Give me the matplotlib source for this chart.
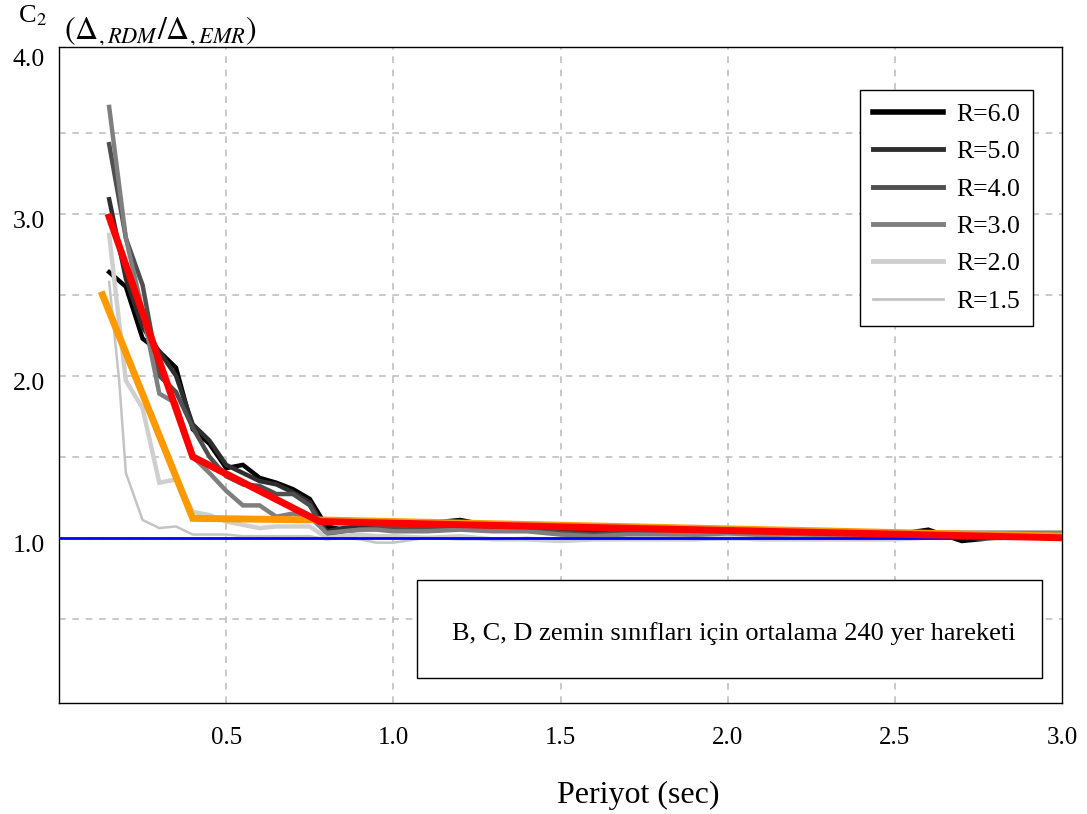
import matplotlib
matplotlib.use("Agg")
import matplotlib.pyplot as plt
from matplotlib.patches import Rectangle
from matplotlib.transforms import Bbox, ScaledTranslation

plt.rcParams['font.family'] = ['Liberation Serif', 'DejaVu Serif']
plt.rcParams['mathtext.fontset'] = 'stix'

# ---------------- data ----------------
periods = [0.15, 0.20, 0.25, 0.30, 0.35, 0.40, 0.45, 0.50, 0.55, 0.60, 0.65, 0.70,
           0.75, 0.80, 0.85, 0.90, 0.95, 1.00, 1.10, 1.20, 1.30, 1.40, 1.50, 1.60,
           1.70, 1.80, 1.90, 2.00, 2.10, 2.20, 2.30, 2.40, 2.50, 2.60, 2.70, 2.80,
           2.90, 3.00]

r60 = [2.64, 2.55, 2.23, 2.15, 2.05, 1.67, 1.58, 1.43, 1.45, 1.37, 1.34, 1.30,
       1.24, 1.07, 1.05, 1.06, 1.07, 1.08,
       1.09, 1.11, 1.07, 1.06, 1.04, 1.04, 1.05, 1.04, 1.04, 1.03, 1.03, 1.02,
       1.02, 1.02, 1.02, 1.05, 0.98, 1.00, 1.01, 1.00]
r50 = [3.09, 2.60, 2.30, 2.15, 2.00, 1.70, 1.60, 1.45, 1.40, 1.35, 1.33, 1.28,
       1.22, 1.04, 1.06, 1.07, 1.06, 1.07,
       1.07, 1.08, 1.06, 1.05, 1.04, 1.03, 1.04, 1.04, 1.03, 1.03, 1.02, 1.02,
       1.02, 1.01, 1.02, 1.03, 1.01, 1.02, 1.02, 1.02]
r40 = [3.43, 2.85, 2.56, 2.00, 1.90, 1.68, 1.50, 1.38, 1.33, 1.32, 1.27, 1.27,
       1.20, 1.02, 1.04, 1.05, 1.06, 1.06,
       1.06, 1.07, 1.05, 1.05, 1.03, 1.02, 1.03, 1.03, 1.02, 1.02, 1.02, 1.02,
       1.01, 1.02, 1.02, 1.03, 1.03, 1.03, 1.03, 1.03]
r30 = [3.66, 2.85, 2.40, 1.89, 1.83, 1.50, 1.40, 1.29, 1.20, 1.20, 1.13, 1.15,
       1.13, 1.03, 1.04, 1.05, 1.05, 1.04,
       1.04, 1.05, 1.04, 1.04, 1.02, 1.01, 1.02, 1.02, 1.02, 1.02, 1.01, 1.01,
       1.01, 1.02, 1.02, 1.03, 1.03, 1.03, 1.03, 1.03]
r20 = [2.87, 1.97, 1.80, 1.34, 1.36, 1.16, 1.14, 1.10, 1.08, 1.06, 1.07, 1.07,
       1.07, 1.00, 1.01, 1.02, 1.01, 1.01,
       1.00, 1.01, 0.99, 0.99, 0.98, 0.99, 0.99, 0.99, 0.99, 1.00, 0.99, 0.99,
       0.99, 0.99, 0.99, 1.00, 1.00, 1.00, 1.00, 1.00]

periods_r15 = [0.15, 0.18, 0.20, 0.25, 0.30, 0.35, 0.40, 0.45, 0.50, 0.55, 0.60,
               0.65, 0.70, 0.75, 0.80, 0.85, 0.90, 0.95, 1.00, 1.10, 1.20, 1.30,
               1.40, 1.50, 1.60, 1.70, 1.80, 1.90, 2.00, 2.20, 2.40, 2.60, 2.80,
               3.00]
r15 = [2.58, 1.97, 1.40, 1.11, 1.06, 1.07, 1.02, 1.02, 1.02, 1.01, 1.01,
       1.01, 1.01, 1.01, 0.99, 1.00, 0.99, 0.97, 0.97, 1.00, 0.99, 0.99,
       1.00, 0.99, 0.99, 1.00, 1.00, 0.99, 0.99, 1.00, 0.99, 1.00, 0.99,
       1.00]

red_T = [0.15, 0.40, 0.78, 3.00]
red_C = [2.98, 1.50, 1.10, 1.00]
orange_T = [0.13, 0.40, 0.78, 3.00]
orange_C = [2.50, 1.12, 1.11, 1.01]

legend_labels = ["R=6.0", "R=5.0", "R=4.0", "R=3.0", "R=2.0", "R=1.5"]
x_ticks = [0.5, 1.0, 1.5, 2.0, 2.5, 3.0]
y_ticks = [1.0, 2.0, 3.0, 4.0]

# ---------------- figure ----------------
W, H = 1087, 814
fig = plt.figure(figsize=(W / 100, H / 100), dpi=100)
ax = fig.add_axes([59 / W, 1 - 703 / H, (1062 - 59) / W, (703 - 47) / H])

series = [
    (periods, r60, "#000000", 3.2),
    (periods, r50, "#2e2e2e", 3.2),
    (periods, r40, "#4f4f4f", 3.2),
    (periods, r30, "#7f7f7f", 3.2),
    (periods, r20, "#cfcfcf", 3.2),
    (periods_r15, r15, "#c4c4c4", 1.8),
]
handles = []
for (t, c, col, lw), lab in zip(series, legend_labels):
    h, = ax.plot(t, c, color=col, lw=lw, label=lab, solid_joinstyle='miter', zorder=3)
    handles.append(h)

ax.axhline(1.0, color="#0000ff", lw=2, zorder=4)
ax.plot(orange_T, orange_C, color="#ff9900", lw=5, zorder=5, solid_joinstyle='miter')
ax.plot(red_T, red_C, color="#ff0000", lw=5, zorder=6, solid_joinstyle='miter')

ax.set_xlim(0, 3.0)
ax.set_ylim(-0.02, 4.03)

# grid lines
for gx in [0.5, 1.0, 1.5, 2.0, 2.5]:
    ax.axvline(gx, color="#c0c0c0", lw=1.2, ls=(0, (4, 4)), zorder=1)
for gy in [0.5, 1.0, 1.5, 2.0, 2.5, 3.0, 3.5]:
    ax.axhline(gy, color="#c0c0c0", lw=1.2, ls=(0, (4, 4)), zorder=1)

ax.set_xticks(x_ticks)
ax.set_xticklabels([f"{v:.1f}" for v in x_ticks])
ax.set_yticks(y_ticks)
ax.set_yticklabels([f"{v:.1f}" for v in y_ticks])
ax.tick_params(axis='x', length=0, pad=17, labelsize=18)
ax.tick_params(axis='y', length=0, pad=10, labelsize=18.5)
shift = ScaledTranslation(0, -6 / 100, fig.dpi_scale_trans)
for lab in ax.get_yticklabels():
    lab.set_transform(lab.get_transform() + shift)
for s in ax.spines.values():
    s.set_linewidth(1.0)
    s.set_color("black")

ax.set_xlabel("Periyot (sec)", fontsize=23, labelpad=22)
ax.xaxis.set_label_coords((638 - 59) / 1003, -(795 - 703) / 656)
ax.xaxis.label.set_va('center')

leg = ax.legend(handles=handles, loc='upper right',
                bbox_to_anchor=((1033 - 59) / 1003, (703 - 90) / 656),
                fontsize=18.5, handlelength=2.75, labelspacing=0.56,
                borderpad=0.5, handletextpad=0.5, borderaxespad=0,
                fancybox=False, framealpha=1)
leg.get_frame().set_edgecolor("black")
leg.get_frame().set_linewidth(1.0)
for lh, lw in zip(leg.get_lines(), [4, 3.5, 3.5, 3.5, 3.5, 2]):
    lh.set_linewidth(lw)

# annotation box
x0, x1 = (417 - 59) / 1003, (1042 - 59) / 1003
y0, y1 = (703 - 678) / 656, (703 - 580) / 656
ax.add_patch(Rectangle((x0, y0), x1 - x0, y1 - y0, transform=ax.transAxes,
                       fill=True, facecolor="white", edgecolor="black", lw=1.0, zorder=7))
ax.text((452 - 59) / 1003, (703 - 634) / 656,
        "B, C, D zemin sınıfları için ortalama 240 yer hareketi",
        transform=ax.transAxes, fontsize=19, va='center', ha='left', zorder=8)

# y-axis title (top-left)
fig.text(18 / W, 1 - 16 / H, r"C$_2$", fontsize=19, va='center', ha='left')
t = fig.text(64 / W, 1 - 31 / H, r"$\left(\Delta_{,RDM}/\Delta_{,EMR}\right)$",
             fontsize=23, va='center', ha='left')
t.set_clip_box(Bbox.from_extents(0, H - 45, W, H))
t.set_clip_on(True)

fig.savefig("out.png", dpi=100)
